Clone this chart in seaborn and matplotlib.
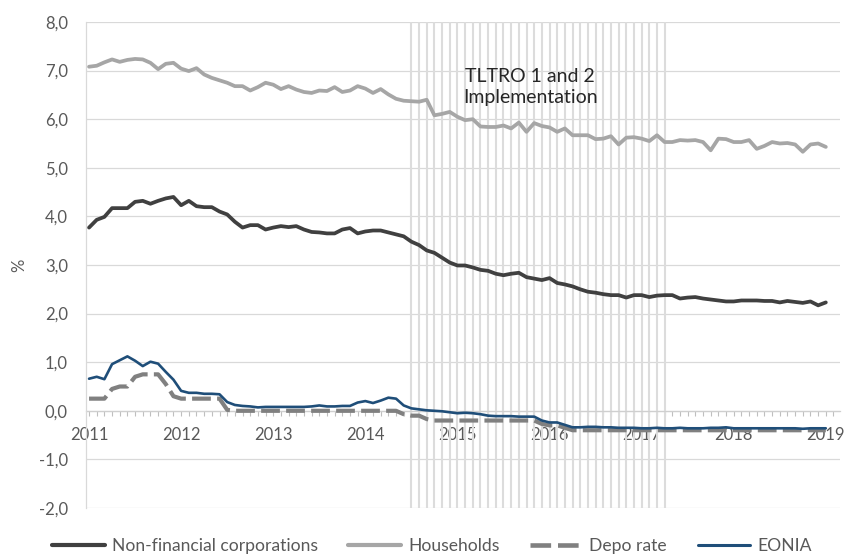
import numpy as np
import pandas as pd
import matplotlib
matplotlib.use("Agg")
import matplotlib.pyplot as plt
from matplotlib.ticker import MultipleLocator, FuncFormatter, FixedLocator
from matplotlib.lines import Line2D
import seaborn as sns

# ---------------- data ----------------
dates = pd.date_range("2011-01-01", periods=97, freq="MS")

nfc = [3.77, 3.93, 3.99, 4.17, 4.17, 4.17, 4.30, 4.32, 4.26, 4.32, 4.37, 4.40,
       4.23, 4.32, 4.21, 4.19, 4.19, 4.10, 4.04, 3.89, 3.77, 3.82, 3.82, 3.73,
       3.77, 3.80, 3.78, 3.80, 3.73, 3.68, 3.67, 3.65, 3.65, 3.73, 3.76, 3.65,
       3.69, 3.71, 3.71, 3.67, 3.63, 3.59, 3.48, 3.41, 3.30, 3.25, 3.15, 3.05,
       2.99, 2.99, 2.95, 2.90, 2.88, 2.82, 2.79, 2.82, 2.84, 2.75, 2.72, 2.69,
       2.73, 2.63, 2.60, 2.56, 2.50, 2.45, 2.43, 2.40, 2.38, 2.38, 2.33, 2.38,
       2.38, 2.34, 2.37, 2.38, 2.38, 2.31, 2.33, 2.34, 2.31, 2.29, 2.27, 2.25,
       2.25, 2.27, 2.27, 2.27, 2.26, 2.26, 2.23, 2.26, 2.24, 2.22, 2.25, 2.17,
       2.23]

households = [7.08, 7.10, 7.17, 7.23, 7.18, 7.22, 7.24, 7.23, 7.16, 7.03, 7.14, 7.16,
              7.04, 6.99, 7.05, 6.92, 6.85, 6.80, 6.75, 6.68, 6.68, 6.59, 6.66, 6.75,
              6.71, 6.62, 6.68, 6.61, 6.56, 6.54, 6.59, 6.58, 6.66, 6.56, 6.59, 6.68,
              6.63, 6.54, 6.62, 6.51, 6.42, 6.38, 6.37, 6.36, 6.40, 6.08, 6.11, 6.15,
              6.05, 5.98, 6.00, 5.85, 5.84, 5.84, 5.87, 5.81, 5.93, 5.74, 5.92, 5.86,
              5.83, 5.74, 5.81, 5.67, 5.67, 5.67, 5.59, 5.60, 5.65, 5.48, 5.62, 5.63,
              5.60, 5.55, 5.67, 5.53, 5.53, 5.57, 5.56, 5.57, 5.53, 5.36, 5.60, 5.59,
              5.53, 5.53, 5.57, 5.39, 5.45, 5.53, 5.50, 5.51, 5.48, 5.33, 5.48, 5.50,
              5.43]

depo_rate = [0.25, 0.25, 0.25, 0.45, 0.50, 0.50, 0.70, 0.75, 0.75, 0.75, 0.55, 0.30,
             0.25, 0.25, 0.25, 0.25, 0.25, 0.25, 0.02, 0.00, 0.00, 0.00, 0.00, 0.00,
             0.00, 0.00, 0.00, 0.00, 0.00, 0.00, 0.00, 0.00, 0.00, 0.00, 0.00, 0.00,
             0.00, 0.00, 0.00, 0.00, 0.00, -0.07, -0.10, -0.10, -0.17, -0.20, -0.20, -0.20,
             -0.20, -0.20, -0.20, -0.20, -0.20, -0.20, -0.20, -0.20, -0.20, -0.20, -0.20, -0.27,
             -0.30, -0.30, -0.35, -0.40, -0.40, -0.40, -0.40, -0.40, -0.40, -0.40, -0.40, -0.40,
             -0.40, -0.40, -0.40, -0.40, -0.40, -0.40, -0.40, -0.40, -0.40, -0.40, -0.40, -0.40,
             -0.40, -0.40, -0.40, -0.40, -0.40, -0.40, -0.40, -0.40, -0.40, -0.40, -0.40, -0.40,
             -0.40]

eonia = [0.66, 0.70, 0.65, 0.96, 1.04, 1.12, 1.03, 0.92, 1.01, 0.97, 0.80, 0.64,
         0.41, 0.37, 0.37, 0.35, 0.35, 0.34, 0.18, 0.12, 0.10, 0.09, 0.07, 0.08,
         0.08, 0.08, 0.08, 0.08, 0.08, 0.09, 0.11, 0.09, 0.09, 0.10, 0.10, 0.17,
         0.20, 0.16, 0.21, 0.27, 0.25, 0.11, 0.05, 0.03, 0.01, 0.00, -0.01, -0.03,
         -0.05, -0.04, -0.05, -0.07, -0.10, -0.11, -0.11, -0.11, -0.12, -0.12, -0.12, -0.20,
         -0.24, -0.24, -0.29, -0.34, -0.34, -0.33, -0.33, -0.34, -0.34, -0.35, -0.35, -0.35,
         -0.36, -0.36, -0.35, -0.36, -0.36, -0.35, -0.36, -0.36, -0.36, -0.35, -0.35, -0.34,
         -0.36, -0.36, -0.36, -0.36, -0.36, -0.36, -0.36, -0.36, -0.36, -0.37, -0.36, -0.36,
         -0.36]

tltro_start = "2014-07-01"
tltro_end = "2017-04-01"
tltro_label = "TLTRO 1 and 2\nImplementation"

series_names = ["Non-financial corporations", "Households", "Depo rate", "EONIA"]
year_ticks = [2011, 2012, 2013, 2014, 2015, 2016, 2017, 2018, 2019]
y_ticks = [-2, -1, 0, 1, 2, 3, 4, 5, 6, 7, 8]

# ---------------- styling ----------------
sns.set_theme(style="white")
plt.rcParams["font.family"] = ["Lato", "DejaVu Sans"]
TXT = "#595959"
GRID = "#d9d9d9"

def dec_year(d):
    return d.year + (d.month - 1) / 12.0

x = np.array([dec_year(d) for d in dates])
df = pd.DataFrame({"t": x, series_names[0]: nfc, series_names[1]: households,
                   series_names[2]: depo_rate, series_names[3]: eonia})

fig = plt.figure(figsize=(8.48, 5.56), dpi=100)
ax = fig.add_axes([86 / 848, 1 - 508 / 556, (840 - 86) / 848, (508 - 22) / 556])

# TLTRO implementation period: one thin vertical bar per month
tl_months = pd.date_range(tltro_start, tltro_end, freq="MS")
ax.vlines([dec_year(d) for d in tl_months], -2, 8, color="#dcdcdc", lw=1.5, zorder=1)

styles = {
    series_names[0]: dict(color="#404040", lw=2.7, ls="-"),
    series_names[1]: dict(color="#a6a6a6", lw=2.7, ls="-"),
    series_names[2]: dict(color="#808080", lw=3.0, ls=(0, (4.5, 1.5))),
    series_names[3]: dict(color="#1f4e79", lw=1.9, ls="-"),
}
for name in series_names:
    st = styles[name]
    sns.lineplot(data=df, x="t", y=name, ax=ax, color=st["color"], linewidth=st["lw"],
                 linestyle=st["ls"], zorder=3, legend=False)

ax.set_xlim(2010.967, 2019.154)
ax.set_ylim(-2, 8)

# gridlines
ax.yaxis.set_major_locator(FixedLocator(y_ticks))
ax.grid(axis="y", color=GRID, lw=0.9, zorder=0)
ax.grid(axis="x", visible=False)
ax.set_axisbelow(True)

for s in ["top", "right"]:
    ax.spines[s].set_visible(False)
ax.spines["left"].set_color(GRID)
ax.spines["left"].set_linewidth(0.9)
ax.spines["bottom"].set_position(("data", 0))
ax.spines["bottom"].set_color("#cfcfcf")
ax.spines["bottom"].set_linewidth(0.9)
ax.spines["bottom"].set_zorder(2)

ax.xaxis.set_major_locator(FixedLocator(year_ticks))
ax.xaxis.set_minor_locator(MultipleLocator(1 / 12))
ax.xaxis.set_major_formatter(FuncFormatter(lambda v, p: f"{int(round(v))}"))
ax.tick_params(axis="x", which="both", direction="out", length=3.5, width=0.8,
               color="#bfbfbf", bottom=True)
ax.tick_params(axis="x", which="major", labelsize=12, labelcolor=TXT, pad=8)

ax.yaxis.set_major_formatter(FuncFormatter(lambda v, p: f"{v:.1f}".replace(".", ",")))
ax.tick_params(axis="y", length=0, labelsize=12, labelcolor=TXT, pad=13)

ax.set_xlabel("")
ax.set_ylabel("%", color=TXT, fontsize=12, labelpad=8)

ax.text(2015.79, 6.66, tltro_label, ha="center", va="center", fontsize=14,
        color="#262626", linespacing=1.25, zorder=4)

handles = [Line2D([0], [0], color=styles[n]["color"], lw=styles[n]["lw"] + 0.3,
                  ls=styles[n]["ls"]) for n in series_names]
fig.legend(handles, series_names, loc="center", bbox_to_anchor=(432 / 848, 10 / 556),
           ncol=4, frameon=False, fontsize=12.6, labelcolor=TXT, handlelength=3.0,
           handletextpad=0.4, columnspacing=1.75, borderaxespad=0)

fig.savefig("out.png", dpi=100)
